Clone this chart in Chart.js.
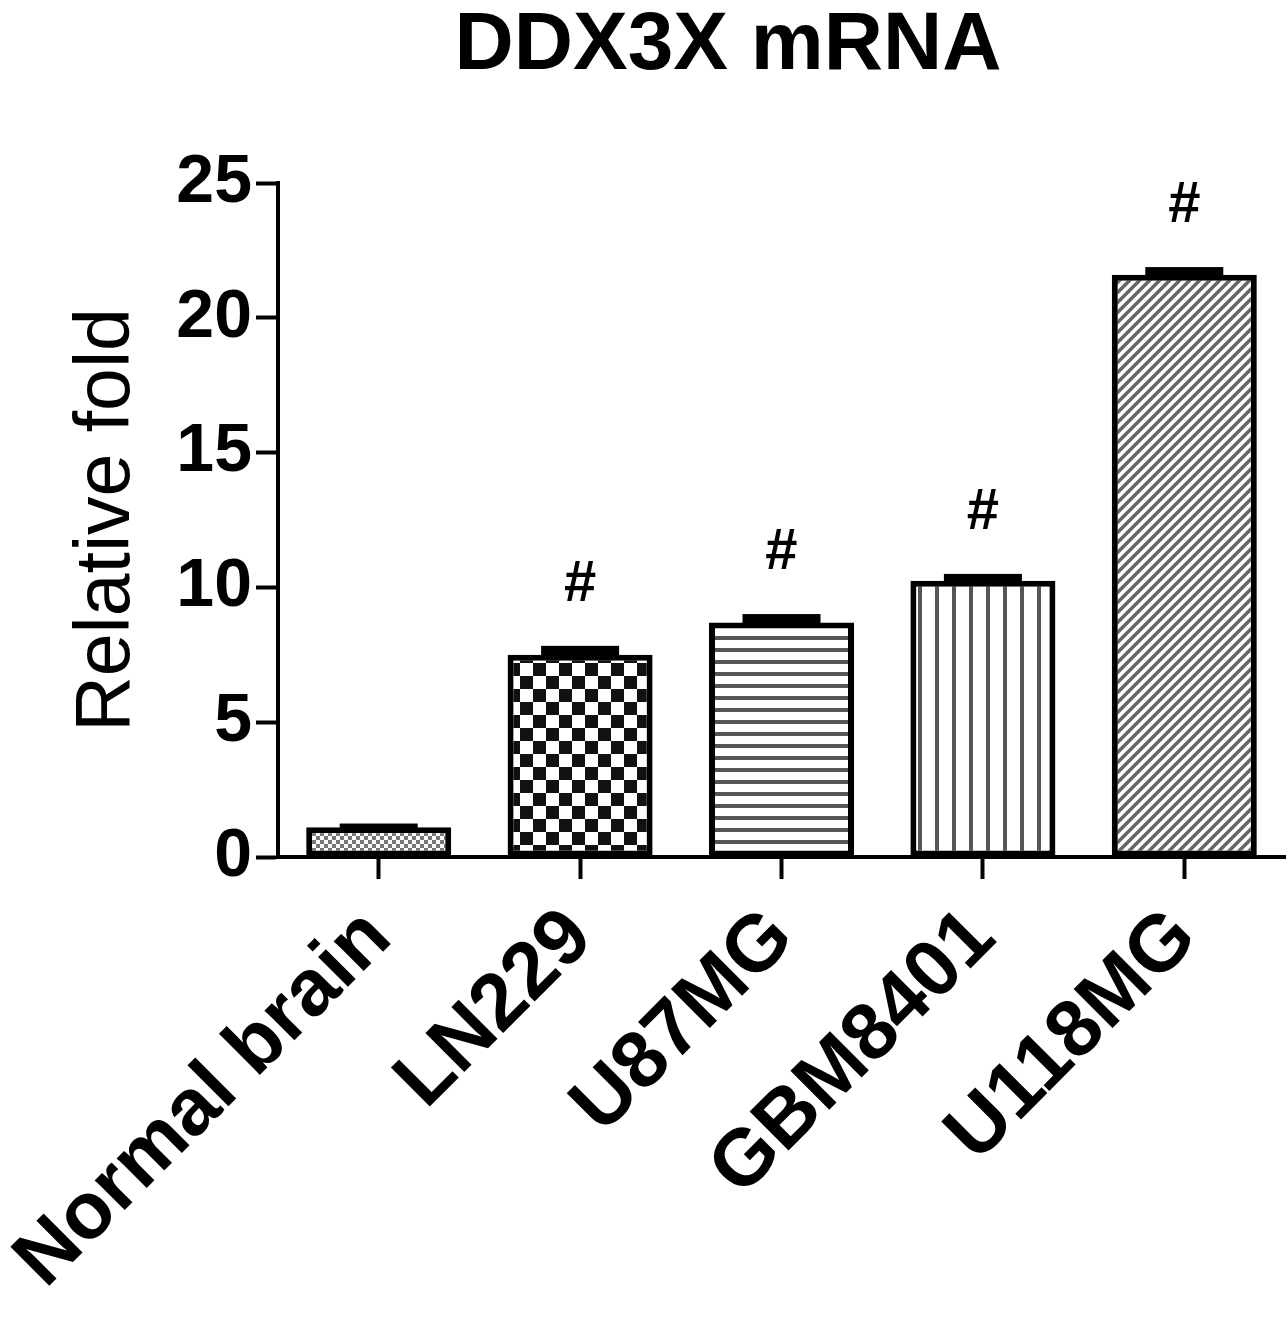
<!DOCTYPE html>
<html lang="en">
<head>
  <meta charset="UTF-8">
  <title>DDX3X mRNA</title>
  <script src="https://cdn.jsdelivr.net/npm/chart.js"></script>
  <style>
    html, body { margin: 0; padding: 0; background: #fff; }
    #wrap { width: 1288px; height: 1331px; position: relative; }
  </style>
</head>
<body>
  <div id="wrap"><canvas id="ddxChart"></canvas></div>

  <script>
    // data
    const categories = ['Normal brain', 'LN229', 'U87MG', 'GBM8401', 'U118MG'];
    const foldValues = [1.1, 7.5, 8.7, 10.25, 21.6];
    const foldErrors = [0.03, 0.22, 0.2, 0.14, 0.17];
    const sigMarks = ['', '#', '#', '#', '#'];
    const yTicks = [0, 5, 10, 15, 20, 25];

    const FONT = '"Liberation Sans", Arial, sans-serif';

    // fill patterns for each bar
    function makePattern(kind) {
      const c = document.createElement('canvas');
      const g = c.getContext('2d');
      if (kind === 'fineChecker') {
        c.width = 8; c.height = 8;
        g.fillStyle = '#fff'; g.fillRect(0, 0, 8, 8);
        g.fillStyle = '#777';
        g.fillRect(0, 0, 4, 4); g.fillRect(4, 4, 4, 4);
      } else if (kind === 'checker') {
        c.width = 26; c.height = 26;
        g.fillStyle = '#fff'; g.fillRect(0, 0, 26, 26);
        g.fillStyle = '#111';
        g.fillRect(0, 0, 13, 13); g.fillRect(13, 13, 13, 13);
      } else if (kind === 'hlines') {
        c.width = 12; c.height = 12;
        g.fillStyle = '#fff'; g.fillRect(0, 0, 12, 12);
        g.fillStyle = '#555'; g.fillRect(0, 0, 12, 4);
      } else if (kind === 'vlines') {
        c.width = 17; c.height = 17;
        g.fillStyle = '#fff'; g.fillRect(0, 0, 17, 17);
        g.fillStyle = '#555'; g.fillRect(0, 0, 4, 17);
      } else if (kind === 'diag') {
        c.width = 10; c.height = 10;
        g.fillStyle = '#fff'; g.fillRect(0, 0, 10, 10);
        g.strokeStyle = '#666'; g.lineWidth = 3.5;
        g.beginPath();
        g.moveTo(-5, 5); g.lineTo(5, -5);
        g.moveTo(0, 10); g.lineTo(10, 0);
        g.moveTo(5, 15); g.lineTo(15, 5);
        g.stroke();
      }
      return g.createPattern(c, 'repeat');
    }
    const patterns = ['fineChecker', 'checker', 'hlines', 'vlines', 'diag'].map(makePattern);

    // title drawn over the plot + tick labels
    const titlePlugin = {
      id: 'figTitle',
      afterDraw(chart) {
        const ctx = chart.ctx;
        ctx.save();
        ctx.font = 'bold 82px ' + FONT;
        ctx.fillStyle = '#000';
        ctx.textAlign = 'center';
        ctx.textBaseline = 'middle';
        ctx.fillText('DDX3X mRNA', 728, 46);
        ctx.restore();
      }
    };

    // upper error bars (drawn as solid caps) and significance marks
    const errorPlugin = {
      id: 'errorBars',
      afterDatasetsDraw(chart) {
        const ctx = chart.ctx;
        const y = chart.scales.y;
        const meta = chart.getDatasetMeta(0);
        ctx.save();
        ctx.fillStyle = '#000';
        meta.data.forEach((bar, i) => {
          const yTop = y.getPixelForValue(foldValues[i] + foldErrors[i]);
          ctx.fillRect(bar.x - 39, yTop - 3, 78, bar.y - yTop + 6);
          if (sigMarks[i]) {
            ctx.font = 'bold 58px ' + FONT;
            ctx.textAlign = 'center';
            ctx.textBaseline = 'middle';
            ctx.fillText(sigMarks[i], bar.x, yTop - 64);
          }
        });
        ctx.restore();
      }
    };

    new Chart(document.getElementById('ddxChart').getContext('2d'), {
      type: 'bar',
      data: {
        labels: categories,
        datasets: [{
          data: foldValues,
          backgroundColor: patterns,
          borderColor: '#000',
          borderWidth: 6,
          borderSkipped: false,
          barPercentage: 0.72,
          categoryPercentage: 1
        }]
      },
      options: {
        responsive: true,
        maintainAspectRatio: false,
        animation: false,
        layout: { padding: { top: 183, right: 3, left: 0, bottom: 0 } },
        plugins: {
          legend: { display: false },
          tooltip: { enabled: false },
          title: { display: false }
        },
        scales: {
          y: {
            min: 0,
            max: 25,
            afterBuildTicks(scale) { scale.ticks = yTicks.map(v => ({ value: v })); },
            afterFit(scale) { scale.width = 278; },
            border: { color: '#000', width: 4 },
            grid: { drawOnChartArea: false, drawTicks: true, tickLength: 22, tickWidth: 4, tickColor: '#000' },
            ticks: { color: '#000', padding: 4, font: { family: FONT, size: 68, weight: 'bold' } },
            title: {
              display: true,
              text: 'Relative fold',
              color: '#000',
              padding: { top: 62, bottom: 0 },
              font: { family: FONT, size: 77 }
            }
          },
          x: {
            afterFit(scale) {
              scale.height = 1331 - 857;
              // rotated labels would otherwise push the plot area right
              scale.paddingLeft = 0;
              scale.paddingRight = 0;
            },
            border: { color: '#000', width: 4 },
            grid: { offset: false, drawOnChartArea: false, drawTicks: true, tickLength: 22, tickWidth: 4, tickColor: '#000' },
            ticks: {
              color: '#000',
              autoSkip: false,
              minRotation: 45,
              maxRotation: 45,
              padding: 12,
              font: { family: FONT, size: 80, weight: 'bold' }
            }
          }
        }
      },
      plugins: [errorPlugin, titlePlugin]
    });
  </script>
</body>
</html>
